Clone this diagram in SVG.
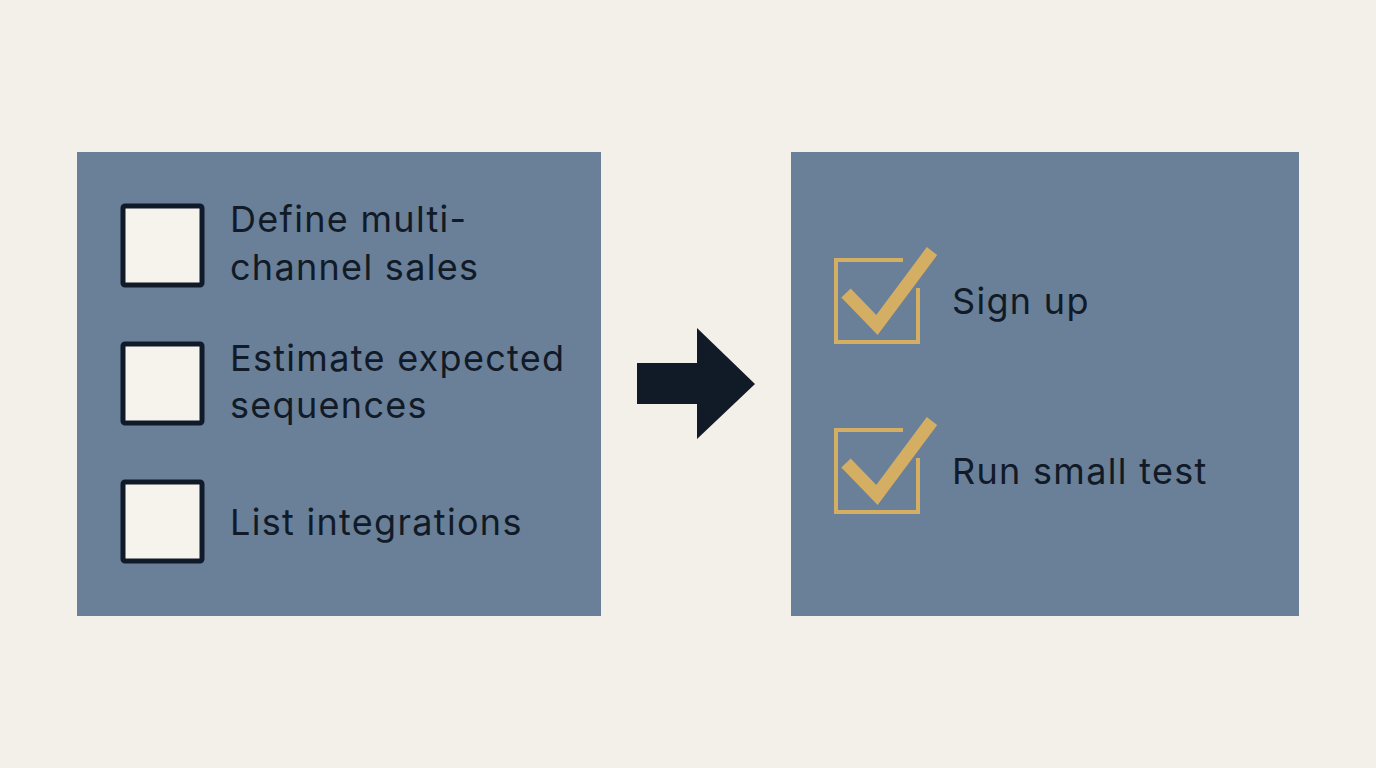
<svg xmlns="http://www.w3.org/2000/svg" width="1376" height="768" viewBox="0 0 1376 768">
<style>
.panel{fill:#6a7f98}
.box{fill:#f6f2ec;stroke:#101b29;stroke-width:5}
.txt{font-family:Inter,"Noto Sans",sans-serif;font-size:36px;letter-spacing:1.3px;fill:#111a27}
.gbox{fill:none;stroke:#d4ae62;stroke-width:4}
.tick{fill:none;stroke:#d4ae62;stroke-width:13;stroke-linejoin:miter}
</style>
<rect width="1376" height="768" fill="#f3f0ea"/>
<g id="left-panel">
<rect class="panel" x="77" y="152" width="524" height="464"/>
</g>
<g id="item1">
<rect class="box" x="123" y="206" width="79" height="79" rx="2"/>
<text class="txt" x="230" y="232">Define multi-</text>
<text class="txt" x="230" y="280">channel sales</text>
</g>
<g id="item2">
<rect class="box" x="123" y="344" width="79" height="79" rx="2"/>
<text class="txt" x="230" y="371">Estimate expected</text>
<text class="txt" x="230" y="418">sequences</text>
</g>
<g id="item3">
<rect class="box" x="123" y="482" width="79" height="79" rx="2"/>
<text class="txt" x="230" y="535">List integrations</text>
</g>
<g id="connectors">
<polygon points="637,363 697,363 697,328 755,384 697,439 697,404 637,404" fill="#111a27"/>
</g>
<g id="right-panel">
<rect class="panel" x="791" y="152" width="508" height="464"/>
</g>
<g id="done1">
<path class="gbox" d="M903,260 H836 V342 H918 V288"/>
<path class="tick" d="M846,293 L877,325 L932,251"/>
<text class="txt" x="952" y="314">Sign up</text>
</g>
<g id="done2">
<path class="gbox" d="M903,430 H836 V512 H918 V458"/>
<path class="tick" d="M846,463 L877,495 L932,421"/>
<text class="txt" x="952" y="484">Run small test</text>
</g>
</svg>
